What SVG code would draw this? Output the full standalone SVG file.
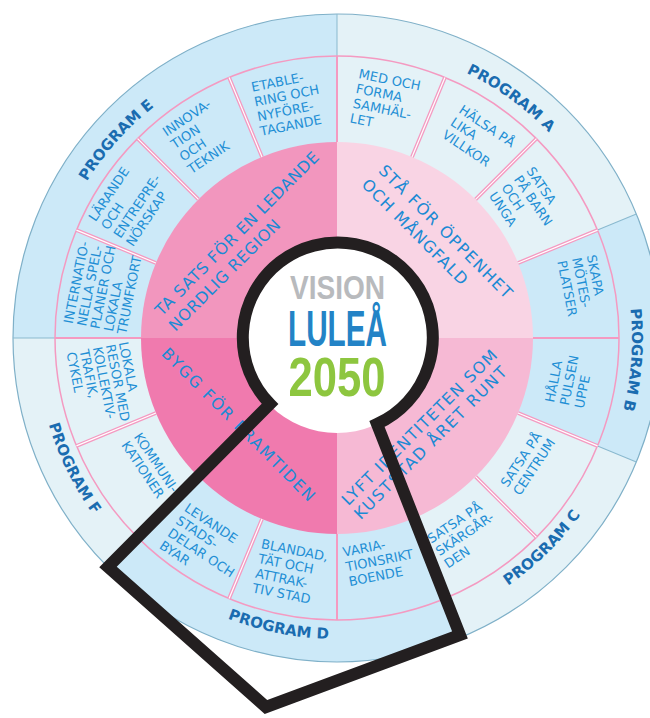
<svg xmlns="http://www.w3.org/2000/svg" width="650" height="718" viewBox="0 0 650 718">
<style>
.cell{font-family:"DejaVu Sans",Verdana,sans-serif;font-size:13px;fill:#1f8fd5}
.prog{font-family:"DejaVu Sans",Verdana,sans-serif;font-weight:bold;font-size:15px;fill:#1a6cb0}
.goal{font-family:"DejaVu Sans",Verdana,sans-serif;font-size:16px;fill:#1b8ad4}
.pale{fill:#e4f2f7}
.blue{fill:#cce9f8}
.bline{stroke:#8ab9cf;stroke-width:1;fill:none}
.dp{stroke:#f49ac1;stroke-width:3.8}
.dw{stroke:#ffffff;stroke-width:1.2}
.sp{stroke:#f49ac1;stroke-width:2}
</style>
<defs>
<path id="cw" d="M337,43 A295,295 0 1 1 337,633 A295,295 0 1 1 337,43"/>
<path id="ccw" d="M337,37 A301,301 0 1 0 337,639 A301,301 0 1 0 337,37"/>
</defs>
<rect width="650" height="718" fill="#ffffff"/>

<g id="programs">
<circle cx="337" cy="338" r="324" class="pale"/>
<path id="program-b-area" class="blue" d="M337,338 L636.3,214 A324,324 0 0 1 636.3,462 Z"/>
<path id="program-d-area" class="blue" d="M337,338 L461,637.3 A324,324 0 0 1 107.9,567.1 Z"/>
<path id="program-e-area" class="blue" d="M337,338 L13,338 A324,324 0 0 1 337,14 Z"/>
<circle cx="337" cy="338" r="324" fill="none" stroke="#7fb0c8" stroke-width="1.2"/>
<g transform="translate(337 338)">
<line class="bline" x1="0" y1="-282" x2="0" y2="-324" transform="rotate(0)"/>
<line class="bline" x1="0" y1="-282" x2="0" y2="-324" transform="rotate(67.5)"/>
<line class="bline" x1="0" y1="-282" x2="0" y2="-324" transform="rotate(112.5)"/>
<line class="bline" x1="0" y1="-282" x2="0" y2="-324" transform="rotate(157.5)"/>
<line class="bline" x1="0" y1="-282" x2="0" y2="-324" transform="rotate(225)"/>
<line class="bline" x1="0" y1="-282" x2="0" y2="-324" transform="rotate(270)"/>
</g>
<circle cx="337" cy="338" r="282" fill="none" stroke="#f49ac1" stroke-width="1.5"/>
</g>

<g id="program-labels">
<g id="program-a"><text class="prog" text-anchor="middle"><textPath href="#cw" startOffset="185">PROGRAM A</textPath></text></g>
<g id="program-b"><text class="prog" text-anchor="middle"><textPath href="#cw" startOffset="485">PROGRAM B</textPath></text></g>
<g id="program-e"><text class="prog" text-anchor="middle"><textPath href="#cw" startOffset="1605">PROGRAM E</textPath></text></g>
<g id="program-c"><text class="prog" text-anchor="middle"><textPath href="#ccw" startOffset="1178">PROGRAM C</textPath></text></g>
<g id="program-d"><text class="prog" text-anchor="middle"><textPath href="#ccw" startOffset="885">PROGRAM D</textPath></text></g>
<g id="program-f"><text class="prog" text-anchor="middle"><textPath href="#ccw" startOffset="611">PROGRAM F</textPath></text></g>
</g>

<g id="goals">
<path id="goal-tl" fill="#f296be" d="M337,338 L141,338 A196,196 0 0 1 337,142 Z"/>
<path id="goal-tr" fill="#f9d4e4" d="M337,338 L337,142 A196,196 0 0 1 533,338 Z"/>
<path id="goal-br" fill="#f6b9d4" d="M337,338 L533,338 A196,196 0 0 1 337,534 Z"/>
<path id="goal-bl" fill="#f07aae" d="M337,338 L337,534 A196,196 0 0 1 141,338 Z"/>
</g>

<g id="cell-dividers" transform="translate(337 338)">
<g class="sp">
<line x1="0" y1="-196" x2="0" y2="-282" transform="rotate(0)"/>
<line x1="0" y1="-196" x2="0" y2="-282" transform="rotate(90)"/>
<line x1="0" y1="-196" x2="0" y2="-282" transform="rotate(180)"/>
<line x1="0" y1="-196" x2="0" y2="-282" transform="rotate(270)"/>
</g>
<g class="dp">
<line x1="0" y1="-196" x2="0" y2="-282" transform="rotate(22.5)"/>
<line x1="0" y1="-196" x2="0" y2="-282" transform="rotate(45)"/>
<line x1="0" y1="-196" x2="0" y2="-282" transform="rotate(67.5)"/>
<line x1="0" y1="-196" x2="0" y2="-282" transform="rotate(112.5)"/>
<line x1="0" y1="-196" x2="0" y2="-282" transform="rotate(135)"/>
<line x1="0" y1="-196" x2="0" y2="-282" transform="rotate(157.5)"/>
<line x1="0" y1="-196" x2="0" y2="-282" transform="rotate(202.5)"/>
<line x1="0" y1="-196" x2="0" y2="-282" transform="rotate(225)"/>
<line x1="0" y1="-196" x2="0" y2="-282" transform="rotate(247.5)"/>
<line x1="0" y1="-196" x2="0" y2="-282" transform="rotate(292.5)"/>
<line x1="0" y1="-196" x2="0" y2="-282" transform="rotate(315)"/>
<line x1="0" y1="-196" x2="0" y2="-282" transform="rotate(337.5)"/>
</g>
<g class="dw">
<line x1="0" y1="-196" x2="0" y2="-282" transform="rotate(22.5)"/>
<line x1="0" y1="-196" x2="0" y2="-282" transform="rotate(45)"/>
<line x1="0" y1="-196" x2="0" y2="-282" transform="rotate(67.5)"/>
<line x1="0" y1="-196" x2="0" y2="-282" transform="rotate(112.5)"/>
<line x1="0" y1="-196" x2="0" y2="-282" transform="rotate(135)"/>
<line x1="0" y1="-196" x2="0" y2="-282" transform="rotate(157.5)"/>
<line x1="0" y1="-196" x2="0" y2="-282" transform="rotate(202.5)"/>
<line x1="0" y1="-196" x2="0" y2="-282" transform="rotate(225)"/>
<line x1="0" y1="-196" x2="0" y2="-282" transform="rotate(247.5)"/>
<line x1="0" y1="-196" x2="0" y2="-282" transform="rotate(292.5)"/>
<line x1="0" y1="-196" x2="0" y2="-282" transform="rotate(315)"/>
<line x1="0" y1="-196" x2="0" y2="-282" transform="rotate(337.5)"/>
</g>
</g>

<g id="cells">
<g id="cell-0" transform="translate(337 338) rotate(11.25)"><text class="cell"><tspan x="-30" y="-259">MED OCH</tspan><tspan x="-30" dy="15">FORMA</tspan><tspan x="-30" dy="15">SAMHÄL-</tspan><tspan x="-30" dy="15">LET</tspan></text></g>
<g id="cell-1" transform="translate(337 338) rotate(33.75)"><text class="cell"><tspan x="-25" y="-255">HÄLSA PÅ</tspan><tspan x="-25" dy="15">LIKA</tspan><tspan x="-25" dy="15">VILLKOR</tspan></text></g>
<g id="cell-2" transform="translate(337 338) rotate(56.25)"><text class="cell"><tspan x="-34" y="-250">SATSA</tspan><tspan x="-34" dy="15">PÅ BARN</tspan><tspan x="-34" dy="15">OCH</tspan><tspan x="-34" dy="15">UNGA</tspan></text></g>
<g id="cell-3" transform="translate(337 338) rotate(78.75)"><text class="cell"><tspan x="-32" y="-261">SKAPA</tspan><tspan x="-32" dy="15">MÖTES-</tspan><tspan x="-32" dy="15">PLATSER</tspan></text></g>
<g id="cell-4" transform="translate(337 338) rotate(-78.75)"><text class="cell"><tspan x="-21.5" y="225.6">HÅLLA</tspan><tspan x="-21.5" dy="15">PULSEN</tspan><tspan x="-21.5" dy="15">UPPE</tspan></text></g>
<g id="cell-5" transform="translate(337 338) rotate(-56.25)"><text class="cell"><tspan x="-30" y="225">SATSA PÅ</tspan><tspan x="-30" dy="15">CENTRUM</tspan></text></g>
<g id="cell-6" transform="translate(337 338) rotate(-33.75)"><text class="cell"><tspan x="-36" y="223.5">SATSA PÅ</tspan><tspan x="-36" dy="15">SKÄRGÅR-</tspan><tspan x="-36" dy="15">DEN</tspan></text></g>
<g id="cell-7" transform="translate(337 338) rotate(-11.25)"><text class="cell"><tspan x="-36" y="216">VARIA-</tspan><tspan x="-36" dy="15">TIONSRIKT</tspan><tspan x="-36" dy="15">BOENDE</tspan></text></g>
<g id="cell-8" transform="translate(337 338) rotate(11.25)"><text class="cell"><tspan x="-34" y="221">BLANDAD,</tspan><tspan x="-34" dy="15">TÄT OCH</tspan><tspan x="-34" dy="15">ATTRAK-</tspan><tspan x="-34" dy="15">TIV STAD</tspan></text></g>
<g id="cell-9" transform="translate(337 338) rotate(33.75)"><text class="cell"><tspan x="-32" y="228.5">LEVANDE</tspan><tspan x="-32" dy="15">STADS-</tspan><tspan x="-32" dy="15">DELAR OCH</tspan><tspan x="-32" dy="15">BYAR</tspan></text></g>
<g id="cell-10" transform="translate(337 338) rotate(56.25)"><text class="cell"><tspan x="-31" y="224">KOMMUNI-</tspan><tspan x="-31" dy="15">KATIONER</tspan></text></g>
<g id="cell-11" transform="translate(337 338) rotate(78.75)"><text class="cell"><tspan x="-38" y="215">LOKALA</tspan><tspan x="-38" dy="13.3">RESOR MED</tspan><tspan x="-38" dy="13.3">KOLLEKTIV-</tspan><tspan x="-38" dy="13.3">TRAFIK,</tspan><tspan x="-38" dy="13.3">CYKEL</tspan></text></g>
<g id="cell-12" transform="translate(337 338) rotate(-78.75)"><text class="cell"><tspan x="-38" y="-262">INTERNATIO-</tspan><tspan x="-38" dy="13.6">NELLA SPEL-</tspan><tspan x="-38" dy="13.6">PLANER OCH</tspan><tspan x="-38" dy="13.6">LOKALA</tspan><tspan x="-38" dy="13.6">TRUMFKORT</tspan></text></g>
<g id="cell-13" transform="translate(337 338) rotate(-56.25)"><text class="cell"><tspan x="-38" y="-265">LÄRANDE</tspan><tspan x="-38" dy="15">OCH</tspan><tspan x="-38" dy="15">ENTREPRE-</tspan><tspan x="-38" dy="15">NÖRSKAP</tspan></text></g>
<g id="cell-14" transform="translate(337 338) rotate(-33.75)"><text class="cell"><tspan x="-30" y="-262">INNOVA-</tspan><tspan x="-30" dy="15">TION</tspan><tspan x="-30" dy="15">OCH</tspan><tspan x="-30" dy="15">TEKNIK</tspan></text></g>
<g id="cell-15" transform="translate(337 338) rotate(-11.25)"><text class="cell"><tspan x="-35" y="-258">ETABLE-</tspan><tspan x="-35" dy="15">RING OCH</tspan><tspan x="-35" dy="15">NYFÖRE-</tspan><tspan x="-35" dy="15">TAGANDE</tspan></text></g>
</g>

<g id="goal-texts">
<g id="goal-text-tl" transform="translate(337 338) rotate(-45)"><text class="goal" x="-109" y="-139" textLength="224" lengthAdjust="spacing">TA SATS FÖR EN LEDANDE</text><text class="goal" x="-110" y="-118.5" textLength="150" lengthAdjust="spacing">NORDLIG REGION</text></g>
<g id="goal-text-tr" transform="translate(337 338) rotate(45)"><text class="goal" x="-89" y="-146.5" textLength="181" lengthAdjust="spacing">STÅ FÖR ÖPPENHET</text><text class="goal" x="-91" y="-124.5" textLength="142" lengthAdjust="spacing">OCH MÅNGFALD</text></g>
<g id="goal-text-br" transform="translate(337 338) rotate(-45)"><text class="goal" x="-111" y="127" textLength="212" lengthAdjust="spacing">LYFT IDENTITETEN SOM</text><text class="goal" x="-112" y="145.7" textLength="208" lengthAdjust="spacing">KUSTSTAD ÅRET RUNT</text></g>
<g id="goal-text-bl" transform="translate(337 338) rotate(45)"><text class="goal" x="-113" y="136.5" textLength="209" lengthAdjust="spacing">BYGG FÖR FRAMTIDEN</text></g>
</g>

<g id="center">
<circle cx="337" cy="338" r="95" fill="#ffffff"/>
<text x="337.5" y="299" text-anchor="middle" textLength="95" lengthAdjust="spacingAndGlyphs" font-family="'Liberation Sans',Arial,sans-serif" font-weight="bold" font-size="33.5" fill="#b8babd">VISION</text>
<text x="337.5" y="346" text-anchor="middle" textLength="99" lengthAdjust="spacingAndGlyphs" font-family="'Liberation Sans',Arial,sans-serif" font-weight="bold" font-size="50" fill="#2383c6">LULEÅ</text>
<text x="337" y="396" text-anchor="middle" textLength="97" lengthAdjust="spacingAndGlyphs" font-family="'Liberation Sans',Arial,sans-serif" font-weight="bold" font-size="56" fill="#8dc63f">2050</text>
</g>

<g id="connectors">
<path id="highlight-outline" d="M270,404 A95,95 0 1 1 377,424 L460,635 L266,707 L108,567 Z" fill="none" stroke="#231f20" stroke-width="12" stroke-linejoin="miter" stroke-miterlimit="10"/>
</g>
</svg>
